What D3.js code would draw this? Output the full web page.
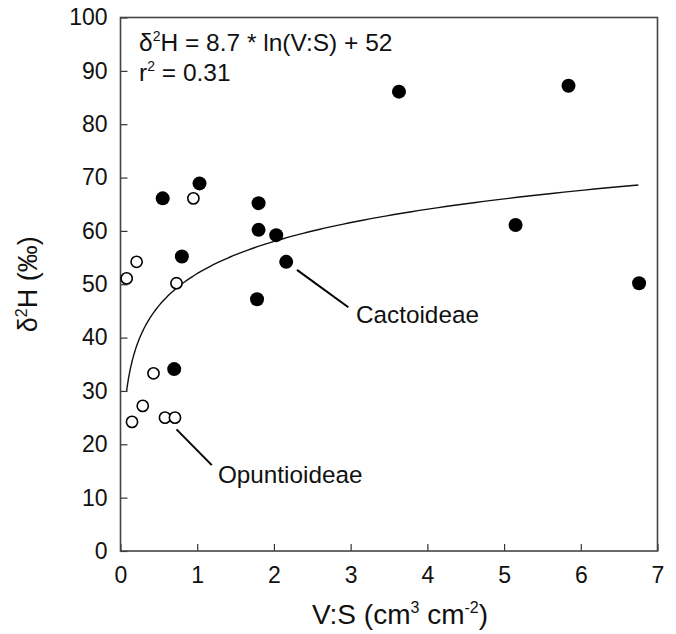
<!DOCTYPE html>
<html>
<head>
<meta charset="utf-8">
<script src="https://cdn.jsdelivr.net/npm/d3@7"></script>
<style>
  html, body { margin: 0; padding: 0; background: #fff; }
  svg { display: block; }
  text { font-family: "Liberation Sans", Arial, Helvetica, sans-serif; fill: #111; }
</style>
</head>
<body>
<svg id="chart" width="676" height="634"></svg>
<script>
// Cactoideae (filled) measurements: V:S ratio and δ2H
const cactoideaeVS = [0.55, 1.03, 0.80, 0.70, 1.80, 1.80, 1.78, 2.03, 2.16, 3.63, 5.84, 5.15, 6.76];
const cactoideaeH  = [66.1, 68.9, 55.2, 34.1, 65.2, 60.2, 47.2, 59.2, 54.2, 86.1, 87.2, 61.1, 50.2];

// Opuntioideae (open) measurements
const opuntioideaeVS = [0.08, 0.21, 0.95, 0.73, 0.43, 0.29, 0.15, 0.58, 0.71];
const opuntioideaeH  = [51.1, 54.2, 66.1, 50.2, 33.3, 27.2, 24.2, 25.0, 25.0];

// Logarithmic fit: δ2H = slope * ln(V:S) + intercept, over the sampled V:S range
const fitCoefficients = [8.7, 52];
const fitRange = [0.08, 6.75];

const xTicks = [0, 1, 2, 3, 4, 5, 6, 7];
const yTicks = [0, 10, 20, 30, 40, 50, 60, 70, 80, 90, 100];

const svg = d3.select("#chart");
const plot = { left: 120.5, right: 657.5, top: 17.5, bottom: 551 };

const x = d3.scaleLinear().domain([0, 7]).range([plot.left, plot.right]);
const y = d3.scaleLinear().domain([0, 100]).range([plot.bottom, plot.top]);

// Axes with inward ticks
const xAxis = svg.append("g")
  .attr("transform", `translate(0,${plot.bottom})`)
  .call(d3.axisBottom(x).tickValues(xTicks).tickSize(-7).tickPadding(16).tickFormat(d3.format("d")));
const yAxis = svg.append("g")
  .attr("transform", `translate(${plot.left},0)`)
  .call(d3.axisLeft(y).tickValues(yTicks).tickSize(-7).tickPadding(13).tickFormat(d3.format("d")));

[xAxis, yAxis].forEach(g => {
  g.select(".domain").remove();
  g.selectAll(".tick line").attr("stroke", "#333").attr("stroke-width", 1.2);
  g.selectAll(".tick text").attr("font-size", 23).attr("fill", "#111")
    .attr("font-family", "'Liberation Sans', Arial, sans-serif");
});
xAxis.selectAll(".tick text").attr("dy", "0.71em");

// Frame
svg.append("rect")
  .attr("x", plot.left).attr("y", plot.top)
  .attr("width", plot.right - plot.left).attr("height", plot.bottom - plot.top)
  .attr("fill", "none").attr("stroke", "#444").attr("stroke-width", 1.6);

// Fit curve
const fitX = d3.range(0, 201).map(i => fitRange[0] * Math.pow(fitRange[1] / fitRange[0], i / 200));
const line = d3.line()
  .x(d => x(d))
  .y(d => y(fitCoefficients[0] * Math.log(d) + fitCoefficients[1]));
svg.append("path")
  .datum(fitX)
  .attr("d", line)
  .attr("fill", "none").attr("stroke", "#111").attr("stroke-width", 1.4);

// Points
svg.append("g").selectAll("circle")
  .data(d3.zip(opuntioideaeVS, opuntioideaeH))
  .join("circle")
  .attr("cx", d => x(d[0])).attr("cy", d => y(d[1]))
  .attr("r", 5.6)
  .attr("fill", "#fff").attr("stroke", "#000").attr("stroke-width", 1.6);

svg.append("g").selectAll("circle")
  .data(d3.zip(cactoideaeVS, cactoideaeH))
  .join("circle")
  .attr("cx", d => x(d[0])).attr("cy", d => y(d[1]))
  .attr("r", 7)
  .attr("fill", "#000");

// Group labels with leader lines
const groupLabels = [
  { name: "Cactoideae", from: [2.30, 52.7], to: [2.97, 45.7], at: [3.07, 42.7] },
  { name: "Opuntioideae", from: [0.73, 22.8], to: [1.19, 16.1], at: [1.27, 12.7] }
];
groupLabels.forEach(l => {
  svg.append("line")
    .attr("x1", x(l.from[0])).attr("y1", y(l.from[1]))
    .attr("x2", x(l.to[0])).attr("y2", y(l.to[1]))
    .attr("stroke", "#000").attr("stroke-width", 2);
  svg.append("text")
    .attr("x", x(l.at[0])).attr("y", y(l.at[1]))
    .attr("font-size", 24.3)
    .text(l.name);
});

// Equation and r²
const eq = svg.append("text").attr("x", 139).attr("y", 51).attr("font-size", 24.5);
eq.append("tspan").text("δ");
eq.append("tspan").attr("font-size", 14).attr("dy", -10).text("2");
eq.append("tspan").attr("dy", 10).text(`H = ${fitCoefficients[0]} * ln(V:S) + ${fitCoefficients[1]}`);

const r2 = svg.append("text").attr("x", 139).attr("y", 81).attr("font-size", 24.5);
r2.append("tspan").text("r");
r2.append("tspan").attr("font-size", 14).attr("dy", -10).text("2");
r2.append("tspan").attr("dy", 10).text(" = 0.31");

// Axis titles
const xt = svg.append("text").attr("x", 400).attr("y", 624).attr("text-anchor", "middle").attr("font-size", 28);
xt.append("tspan").text("V:S (cm");
xt.append("tspan").attr("font-size", 16).attr("dy", -11).text("3");
xt.append("tspan").attr("dy", 11).text(" cm");
xt.append("tspan").attr("font-size", 16).attr("dy", -11).text("-2");
xt.append("tspan").attr("dy", 11).text(")");

const yt = svg.append("text")
  .attr("transform", `translate(37,${(plot.top + plot.bottom) / 2}) rotate(-90)`)
  .attr("text-anchor", "middle").attr("font-size", 27);
yt.append("tspan").text("δ");
yt.append("tspan").attr("font-size", 16).attr("dy", -10).text("2");
yt.append("tspan").attr("dy", 10).text("H (‰)");
</script>
</body>
</html>
